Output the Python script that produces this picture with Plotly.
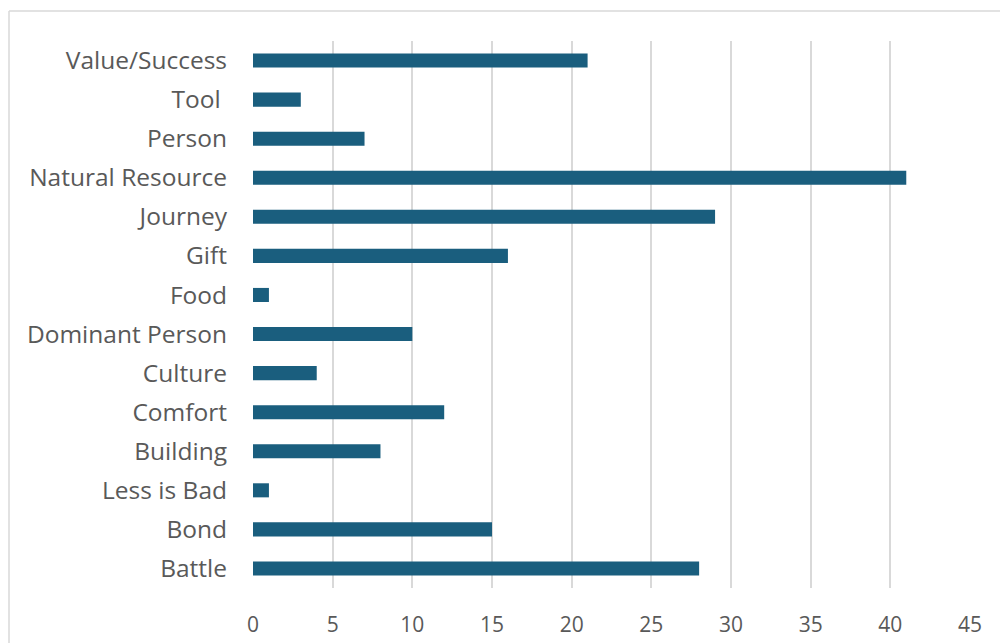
import plotly.graph_objects as go

# Categories listed bottom-to-top, as they appear on the y axis
categories = [
    "Battle", "Bond", "Less is Bad", "Building", "Comfort", "Culture",
    "Dominant Person", "Food", "Gift", "Journey", "Natural Resource",
    "Person", "Tool ", "Value/Success",
]
counts = [28, 15, 1, 8, 12, 4, 10, 1, 16, 29, 41, 7, 3, 21]
x_ticks = [0, 5, 10, 15, 20, 25, 30, 35, 40, 45]

BAR_COLOR = "#1a5e7e"
TEXT_COLOR = "#595959"
GRID_COLOR = "#d9d9d9"
FONT = "Open Sans, Lato, sans-serif"

fig = go.Figure(
    go.Bar(
        x=counts,
        y=categories,
        orientation="h",
        marker=dict(color=BAR_COLOR, line=dict(width=0)),
        hoverinfo="x+y",
    )
)

fig.update_layout(
    width=1000,
    height=643,
    margin=dict(l=253, r=30, t=41, b=55),
    paper_bgcolor="white",
    plot_bgcolor="white",
    bargap=0.64,
    showlegend=False,
    font=dict(family=FONT, size=21, color=TEXT_COLOR),
    xaxis=dict(
        range=[0, 45],
        tickvals=x_ticks,
        ticktext=[str(v) for v in x_ticks],
        showgrid=True,
        gridcolor=GRID_COLOR,
        gridwidth=1.5,
        zeroline=False,
        showline=False,
        ticks="",
        ticklabelstandoff=22,
        tickfont=dict(family=FONT, size=21, color=TEXT_COLOR),
        automargin=False,
        fixedrange=True,
    ),
    yaxis=dict(
        type="category",
        categoryorder="array",
        categoryarray=categories,
        showgrid=False,
        zeroline=False,
        showline=False,
        ticks="",
        ticklabelstandoff=25,
        tickfont=dict(family=FONT, size=24.5, color=TEXT_COLOR),
        automargin=False,
        fixedrange=True,
    ),
    shapes=[
        # chart frame: top and left edges
        dict(type="line", xref="paper", yref="paper",
             x0=-244 / 717, x1=1.2, y0=1 + 30 / 547, y1=1 + 30 / 547,
             line=dict(color=GRID_COLOR, width=1.5)),
        dict(type="line", xref="paper", yref="paper",
             x0=-244 / 717, x1=-244 / 717, y0=-0.2, y1=1 + 30 / 547,
             line=dict(color=GRID_COLOR, width=1.5)),
    ],
)

fig.write_html("out.html")
